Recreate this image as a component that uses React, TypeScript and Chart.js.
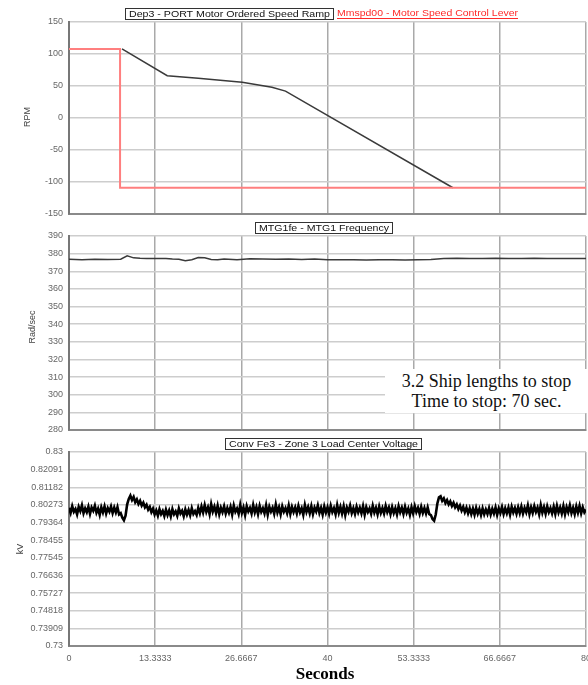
import React, { useEffect, useRef } from "react";
import { Chart, registerables } from "chart.js";
Chart.register(...registerables);

// ---------- data ----------
const X_TICKS = [0, 13.3333, 26.6667, 40, 53.3333, 66.6667, 80];
const X_TICK_LABELS = ["0", "13.3333", "26.6667", "40", "53.3333", "66.6667", "80"];

const RPM_TICKS = [-150, -100, -50, 0, 50, 100, 150];
const ORDER_T = [8.2, 15.2, 20, 26.8, 31.4, 33.5, 59.4];
const ORDER_V = [108, 66, 62, 56, 48, 42, -109];
const LEVER_T = [0, 7.9, 7.9, 80];
const LEVER_V = [108, 108, -109, -109];

const FREQ_TICKS = [280, 290, 300, 310, 320, 330, 340, 350, 360, 370, 380, 390];
const FREQ_T = [0, 2, 4, 6, 8, 9, 10, 11, 12, 14, 15, 16, 17, 18, 19, 20, 21, 22, 23, 24, 26, 28, 30, 32, 34, 36, 38, 40, 42, 44, 46, 48, 50, 52, 54, 56, 58, 60, 62, 64, 66, 68, 70, 72, 74, 76, 78, 80];
const FREQ_V = [376.8, 376.6, 376.8, 376.7, 376.8, 378.8, 377.6, 377.4, 377.3, 377.2, 377.3, 377.0, 376.8, 376.0, 376.5, 377.8, 377.6, 376.7, 376.5, 377.0, 376.6, 377.1, 377.0, 376.8, 376.9, 376.7, 376.9, 376.6, 376.5, 376.6, 376.4, 376.5, 376.5, 376.4, 376.5, 376.7, 377.2, 377.4, 377.3, 377.2, 377.4, 377.3, 377.2, 377.4, 377.3, 377.2, 377.3, 377.2];

const VOLT_TICKS = [0.73, 0.73909, 0.74818, 0.75727, 0.76636, 0.77545, 0.78455, 0.79364, 0.80273, 0.81182, 0.82091, 0.83];
const VOLT_TICK_LABELS = ["0.73", "0.73909", "0.74818", "0.75727", "0.76636", "0.77545", "0.78455", "0.79364", "0.80273", "0.81182", "0.82091", "0.83"];
const VOLT_DT = 0.25;
const VOLT_V = [
  0.8012, 0.7986, 0.8021, 0.7992, 0.8006, 0.7979, 0.8017, 0.7995, 0.8025, 0.7984, 0.8009, 0.7990, 0.8018, 0.7981, 0.8014, 0.7997, 0.8023, 0.7987, 0.8008, 0.7976,
  0.8015, 0.7989, 0.8020, 0.7983, 0.8011, 0.7993, 0.8019, 0.7985, 0.8013, 0.7988, 0.8016, 0.7978, 0.7985, 0.7962, 0.7948, 0.7972, 0.8030, 0.8058, 0.8075, 0.8052,
  0.8068, 0.8041, 0.8056, 0.8032, 0.8048, 0.8024, 0.8039, 0.8015, 0.8028, 0.8003, 0.8017, 0.7990, 0.8008, 0.7978, 0.7999, 0.7972, 0.8005, 0.7980, 0.7996, 0.7970,
  0.8003, 0.7975, 0.7998, 0.7968, 0.8006, 0.7979, 0.7994, 0.7971, 0.8009, 0.7983, 0.7997, 0.7969, 0.8004, 0.7977, 0.8001, 0.7974, 0.8010, 0.7981, 0.7995, 0.7976,
  0.8012, 0.7984, 0.8019, 0.7988, 0.8026, 0.7991, 0.8015, 0.7980, 0.8031, 0.7993, 0.8018, 0.7985, 0.8022, 0.7979, 0.8013, 0.7990, 0.8020, 0.7983, 0.8011, 0.7987,
  0.8017, 0.7978, 0.8024, 0.7992, 0.8009, 0.7981, 0.8028, 0.7986, 0.8014, 0.7975, 0.8021, 0.7994, 0.8012, 0.7983, 0.8027, 0.7989, 0.8016, 0.7980, 0.8022, 0.7991,
  0.8010, 0.7984, 0.8025, 0.7977, 0.8018, 0.7993, 0.8013, 0.7982, 0.8029, 0.7988, 0.8015, 0.7979, 0.8020, 0.7992, 0.8011, 0.7985, 0.8024, 0.7981, 0.8017, 0.7990,
  0.8014, 0.7983, 0.8022, 0.7989, 0.8010, 0.7976, 0.8027, 0.7991, 0.8016, 0.7984, 0.8021, 0.7980, 0.8013, 0.7993, 0.8025, 0.7986, 0.8012, 0.7978, 0.8019, 0.7988,
  0.8015, 0.7982, 0.8023, 0.7990, 0.8011, 0.7979, 0.8026, 0.7987, 0.8017, 0.7983, 0.8020, 0.7975, 0.8014, 0.7992, 0.8024, 0.7985, 0.8010, 0.7981, 0.8018, 0.7989,
  0.8013, 0.7984, 0.8021, 0.7977, 0.8016, 0.7991, 0.8009, 0.7982, 0.8023, 0.7988, 0.8012, 0.7979, 0.8019, 0.7986, 0.8011, 0.7983, 0.8022, 0.7990, 0.8014, 0.7980,
  0.8016, 0.7985, 0.8010, 0.7978, 0.8020, 0.7989, 0.8013, 0.7981, 0.8018, 0.7987, 0.8009, 0.7976, 0.8015, 0.7984, 0.8021, 0.7990, 0.8012, 0.7982, 0.8017, 0.7986,
  0.8011, 0.7983, 0.8014, 0.7980, 0.7975, 0.7955, 0.7946, 0.7978, 0.8035, 0.8066, 0.8072, 0.8048, 0.8061, 0.8037, 0.8052, 0.8030, 0.8045, 0.8022, 0.8038, 0.8015,
  0.8030, 0.8006, 0.8024, 0.7998, 0.8017, 0.7990, 0.8013, 0.7984, 0.8010, 0.7980, 0.8008, 0.7977, 0.8012, 0.7982, 0.8006, 0.7975, 0.8009, 0.7979, 0.8004, 0.7981,
  0.8011, 0.7978, 0.8007, 0.7983, 0.8014, 0.7976, 0.8009, 0.7986, 0.8016, 0.7980, 0.8010, 0.7984, 0.8013, 0.7977, 0.8018, 0.7988, 0.8011, 0.7982, 0.8015, 0.7985,
  0.8019, 0.7983, 0.8012, 0.7989, 0.8024, 0.7980, 0.8015, 0.7986, 0.8021, 0.7991, 0.8013, 0.7979, 0.8026, 0.7987, 0.8016, 0.7982, 0.8020, 0.7990, 0.8011, 0.7984,
  0.8018, 0.7981, 0.8023, 0.7988, 0.8014, 0.7983, 0.8021, 0.7979, 0.8016, 0.7990, 0.8025, 0.7985, 0.8012, 0.7980, 0.8019, 0.7987, 0.8022, 0.7984, 0.8015, 0.7989,
  0.8003,
];

// ---------- layout helpers ----------
const SANS = '"Liberation Sans", Arial, sans-serif';
const SERIF = '"Liberation Serif", "Times New Roman", serif';
const W = 588;

type Label = { text: string; x: number; y: number; w: number; h: number; color: string; box: boolean; underline?: boolean };
type AxisTitle = { text: string; x: number; y: number };

function drawOverlay(chart: any, top: number, labels: Label[], yTitle: AxisTitle) {
  const ctx = chart.ctx as CanvasRenderingContext2D;
  ctx.save();
  ctx.font = `9px ${SANS}`;
  ctx.textBaseline = "middle";
  for (const l of labels) {
    const y = l.y - top;
    if (l.box) {
      ctx.fillStyle = "#ffffff";
      ctx.fillRect(l.x, y, l.w, l.h);
      ctx.strokeStyle = "#333333";
      ctx.lineWidth = 1;
      ctx.strokeRect(l.x + 0.5, y + 0.5, l.w - 1, l.h - 1);
    }
    const inner = l.box ? l.w - 8 : l.w;
    const m = ctx.measureText(l.text).width;
    const sx = inner / m;
    ctx.save();
    ctx.translate(l.x + (l.box ? 4 : 0), y + l.h / 2 + 0.5);
    ctx.scale(sx, 1);
    ctx.fillStyle = l.color;
    ctx.textAlign = "left";
    ctx.fillText(l.text, 0, 0);
    ctx.restore();
    if (l.underline) {
      ctx.strokeStyle = l.color;
      ctx.lineWidth = 1;
      ctx.beginPath();
      ctx.moveTo(l.x, y + l.h - 0.5);
      ctx.lineTo(l.x + l.w, y + l.h - 0.5);
      ctx.stroke();
    }
  }
  ctx.save();
  ctx.translate(yTitle.x, yTitle.y - top);
  ctx.rotate(-Math.PI / 2);
  ctx.textAlign = "center";
  ctx.fillStyle = "#444";
  ctx.font = `9px ${SANS}`;
  ctx.fillText(yTitle.text, 0, 0);
  ctx.restore();
  ctx.restore();
}

type PanelProps = {
  top: number;
  height: number;
  plotTop: number;
  plotBottom: number;
  yMin: number;
  yMax: number;
  yTicks: number[];
  yTickLabels: string[];
  datasets: any[];
  showX: boolean;
  labels: Label[];
  yTitle: AxisTitle;
};

function Panel(p: PanelProps) {
  const ref = useRef<HTMLCanvasElement | null>(null);
  useEffect(() => {
    if (!ref.current) return;
    const bottomSpace = p.top + p.height - p.plotBottom;
    const chart = new Chart(ref.current, {
      type: "scatter",
      data: { datasets: p.datasets },
      options: {
        animation: false,
        responsive: false,
        maintainAspectRatio: false,
        layout: {
          padding: { top: p.plotTop - p.top, bottom: p.showX ? 0 : bottomSpace, left: 0, right: 2 },
        },
        plugins: { legend: { display: false }, tooltip: { enabled: false } },
        elements: { point: { radius: 0 }, line: { tension: 0 } },
        scales: {
          x: {
            type: "linear",
            min: 0,
            max: 80,
            afterBuildTicks: (s: any) => {
              s.ticks = X_TICKS.map((v) => ({ value: v }));
            },
            afterFit: (s: any) => {
              s.paddingLeft = 0;
              s.paddingRight = 0;
              s.height = p.showX ? bottomSpace : 0;
            },
            ticks: {
              display: p.showX,
              autoSkip: false,
              maxRotation: 0,
              padding: 7,
              color: "#666",
              font: { family: SANS, size: 9 },
              callback: (_v: any, i: number) => X_TICK_LABELS[i],
            },
            grid: { color: "#a9a9a9", lineWidth: 1.5, drawTicks: false },
            border: { display: true, color: "#8a8a8a", width: 2 },
          },
          y: {
            type: "linear",
            min: p.yMin,
            max: p.yMax,
            afterBuildTicks: (s: any) => {
              s.ticks = p.yTicks.map((v) => ({ value: v }));
            },
            afterFit: (s: any) => {
              s.width = 69;
              s.paddingTop = 0;
              s.paddingBottom = 0;
            },
            ticks: {
              autoSkip: false,
              padding: 6,
              color: "#666",
              font: { family: SANS, size: 9 },
              callback: (_v: any, i: number) => p.yTickLabels[i],
            },
            grid: { color: "#cdcdcd", lineWidth: 1.5, drawTicks: false },
            border: { display: true, color: "#777", width: 2 },
          },
        },
      },
      plugins: [
        {
          id: "overlay",
          afterDraw: (c: any) => drawOverlay(c, p.top, p.labels, p.yTitle),
        },
      ],
    } as any);
    return () => chart.destroy();
  }, []);
  return (
    <canvas
      ref={ref}
      width={W}
      height={p.height}
      style={{ position: "absolute", left: 0, top: p.top, width: W, height: p.height }}
    />
  );
}

const pts = (t: number[], v: number[]) => t.map((x, i) => ({ x, y: v[i] }));

export default function App() {
  const topSets = [
    { data: pts(LEVER_T, LEVER_V), showLine: true, borderColor: "#ff7f7f", borderWidth: 2, pointRadius: 0 },
    { data: pts(ORDER_T, ORDER_V), showLine: true, borderColor: "#3a3a3a", borderWidth: 1.5, pointRadius: 0 },
  ];
  const midSets = [
    { data: pts(FREQ_T, FREQ_V), showLine: true, borderColor: "#3a3a3a", borderWidth: 1.5, pointRadius: 0 },
  ];
  const botSets = [
    {
      data: VOLT_V.map((v, i) => ({ x: i * VOLT_DT, y: v })),
      showLine: true,
      borderColor: "#000000",
      borderWidth: 2.6,
      pointRadius: 0,
    },
  ];
  return (
    <div style={{ position: "absolute", left: 0, top: 0, width: W, height: 685, background: "#fff", overflow: "hidden" }}>
      <Panel
        top={0}
        height={220}
        plotTop={22}
        plotBottom={214}
        yMin={-150}
        yMax={150}
        yTicks={RPM_TICKS}
        yTickLabels={RPM_TICKS.map(String)}
        datasets={topSets}
        showX={false}
        labels={[
          { text: "Dep3 - PORT Motor Ordered Speed Ramp", x: 125, y: 8, w: 209, h: 12, color: "#111", box: true },
          { text: "Mmspd00 - Motor Speed Control Lever", x: 337, y: 7, w: 181, h: 12, color: "#ff2a2a", box: false, underline: true },
        ]}
        yTitle={{ text: "RPM", x: 28, y: 117 }}
      />
      <Panel
        top={220}
        height={216}
        plotTop={236}
        plotBottom={430}
        yMin={280}
        yMax={390}
        yTicks={FREQ_TICKS}
        yTickLabels={FREQ_TICKS.map(String)}
        datasets={midSets}
        showX={false}
        labels={[{ text: "MTG1fe - MTG1 Frequency", x: 255, y: 222, w: 138, h: 12, color: "#111", box: true }]}
        yTitle={{ text: "Rad/sec", x: 33, y: 327 }}
      />
      <Panel
        top={436}
        height={249}
        plotTop={452}
        plotBottom={646}
        yMin={0.73}
        yMax={0.83}
        yTicks={VOLT_TICKS}
        yTickLabels={VOLT_TICK_LABELS}
        datasets={botSets}
        showX={true}
        labels={[{ text: "Conv Fe3 - Zone 3 Load Center Voltage", x: 225, y: 438, w: 197, h: 12, color: "#111", box: true }]}
        yTitle={{ text: "kV", x: 21, y: 549 }}
      />
      <div
        style={{
          position: "absolute",
          left: 385,
          top: 369,
          width: 203,
          height: 44,
          background: "#fff",
          fontFamily: SERIF,
          fontSize: 18,
          lineHeight: "20px",
          textAlign: "center",
          color: "#111",
          paddingTop: 2,
          boxSizing: "border-box",
        }}
      >
        <div>3.2 Ship lengths to stop</div>
        <div>Time to stop: 70 sec.</div>
      </div>
      <div
        style={{
          position: "absolute",
          left: 265,
          top: 664,
          width: 120,
          textAlign: "center",
          fontFamily: SERIF,
          fontWeight: "bold",
          fontSize: 17,
          lineHeight: "20px",
          color: "#000",
        }}
      >
        Seconds
      </div>
    </div>
  );
}
